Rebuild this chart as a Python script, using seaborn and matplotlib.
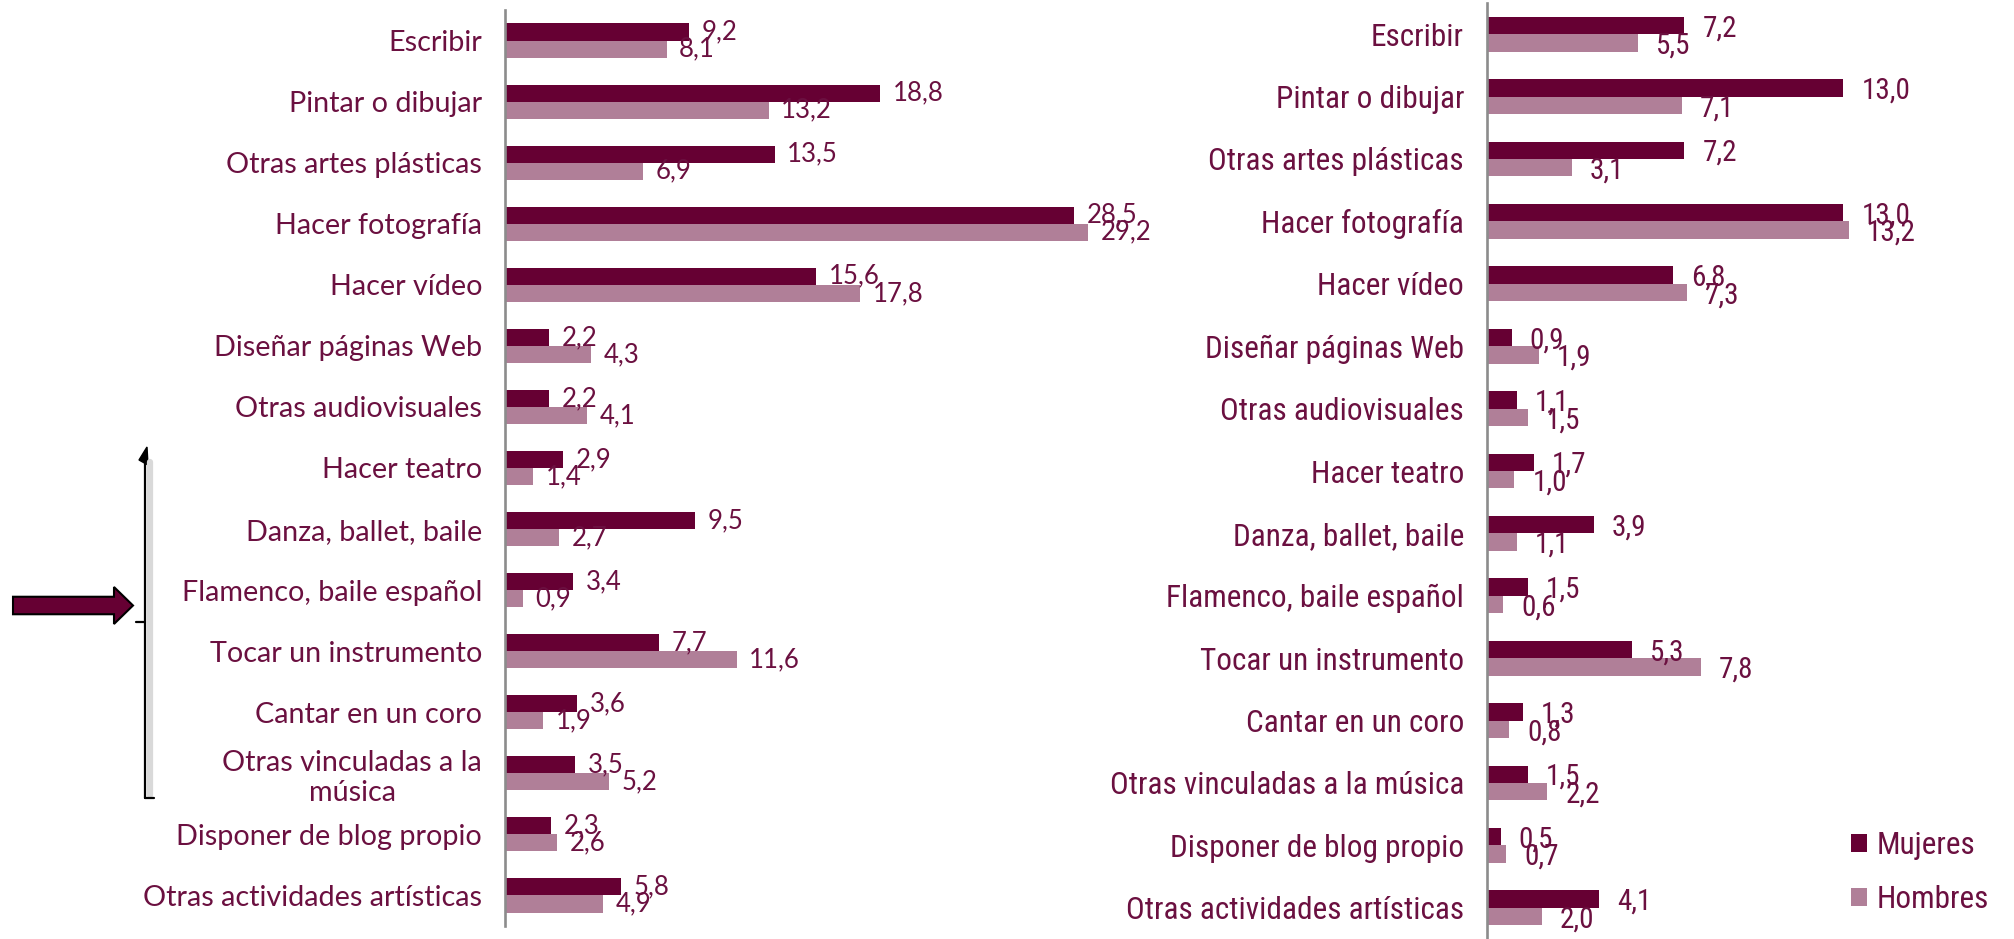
import pandas as pd
import matplotlib.pyplot as plt
import matplotlib.patches as mpatches
from matplotlib.lines import Line2D
import seaborn as sns

# Data
activities_left = ["Escribir", "Pintar o dibujar", "Otras artes plásticas", "Hacer fotografía",
                   "Hacer vídeo", "Diseñar páginas Web", "Otras audiovisuales", "Hacer teatro",
                   "Danza, ballet, baile", "Flamenco, baile español", "Tocar un instrumento",
                   "Cantar en un coro", "Otras vinculadas a la\nmúsica", "Disponer de blog propio",
                   "Otras actividades artísticas"]
mujeres_left = [9.2, 18.8, 13.5, 28.5, 15.6, 2.2, 2.2, 2.9, 9.5, 3.4, 7.7, 3.6, 3.5, 2.3, 5.8]
hombres_left = [8.1, 13.2, 6.9, 29.2, 17.8, 4.3, 4.1, 1.4, 2.7, 0.9, 11.6, 1.9, 5.2, 2.6, 4.9]

activities_right = ["Escribir", "Pintar o dibujar", "Otras artes plásticas", "Hacer fotografía",
                    "Hacer vídeo", "Diseñar páginas Web", "Otras audiovisuales", "Hacer teatro",
                    "Danza, ballet, baile", "Flamenco, baile español", "Tocar un instrumento",
                    "Cantar en un coro", "Otras vinculadas a la música", "Disponer de blog propio",
                    "Otras actividades artísticas"]
mujeres_right = [7.2, 13.0, 7.2, 13.0, 6.8, 0.9, 1.1, 1.7, 3.9, 1.5, 5.3, 1.3, 1.5, 0.5, 4.1]
hombres_right = [5.5, 7.1, 3.1, 13.2, 7.3, 1.9, 1.5, 1.0, 1.1, 0.6, 7.8, 0.8, 2.2, 0.7, 2.0]

sexes = ["Mujeres", "Hombres"]
palette = {"Mujeres": "#660033", "Hombres": "#B07F98"}
text_color = "#6B1040"
axis_color = "#8C8C8C"

font_left = ["Lato", "DejaVu Sans"]
font_right = ["Roboto Condensed", "Fira Sans Condensed", "DejaVu Sans"]


def to_long(acts, muj, hom):
    return pd.DataFrame({
        "Actividad": acts * 2,
        "Sexo": ["Mujeres"] * len(acts) + ["Hombres"] * len(acts),
        "Valor": muj + hom,
    })


df_left = to_long(activities_left, mujeres_left, hombres_left)
df_right = to_long(activities_right, mujeres_right, hombres_right)

sns.set_style("white")

W, H = 2014, 939
fig = plt.figure(figsize=(W / 100, H / 100), dpi=100)

ax_l = fig.add_axes([505 / W, 13 / H, 599 / W, 916 / H])
ax_r = fig.add_axes([1487 / W, 0 / H, 527 / W, 936 / H])


def draw_panel(ax, df, acts, xmax, font, fsize, vsize, gap, dy):
    sns.barplot(data=df, x="Valor", y="Actividad", hue="Sexo", hue_order=sexes,
                palette=palette, width=0.56, orient="h", ax=ax, legend=False,
                edgecolor="none", saturation=1)
    ax.set_xlim(0, xmax)
    ax.set_ylim(len(acts) - 0.5, -0.5)
    ax.set_xlabel("")
    ax.set_ylabel("")
    ax.set_xticks([])
    for s in ["top", "right", "bottom"]:
        ax.spines[s].set_visible(False)
    ax.spines["left"].set_color(axis_color)
    ax.spines["left"].set_linewidth(1.9)
    ax.set_yticks(range(len(acts)))
    ax.set_yticklabels(acts, family=font, fontsize=fsize, color=text_color,
                       ha="right", multialignment="center")
    ax.set_yticks([i - 0.5 for i in range(len(acts) + 1)], minor=True)
    ax.tick_params(axis="y", which="major", length=0, pad=23 * 0.72)
    ax.tick_params(axis="y", which="minor", length=5, width=1.9, color=axis_color,
                   direction="out")
    # value labels
    for cont in ax.containers:
        for bar in cont:
            v = bar.get_width()
            yc = bar.get_y() + bar.get_height() / 2
            ax.annotate(f"{v:.1f}".replace(".", ","), (v, yc), xytext=(gap, -dy),
                        textcoords="offset points", va="center", ha="left",
                        family=font, fontsize=vsize, color=text_color)


draw_panel(ax_l, df_left, activities_left, 30.0, font_left, 20.7, 18.5, 9, 0)
draw_panel(ax_r, df_right, activities_right, 527 / 27.4, font_right, 22.5, 21, 13, 2)

# legend
handles = [mpatches.Patch(facecolor=palette[s], edgecolor="none", label=s) for s in sexes]
leg = fig.legend(handles=handles, loc="upper left", bbox_to_anchor=(1851 / W, 1 - 831 / H),
                 frameon=False, prop={"family": font_right, "size": 22.5},
                 handlelength=0.51, handleheight=0.54, handletextpad=0.3, labelspacing=0.8,
                 borderpad=0, borderaxespad=0)
for t in leg.get_texts():
    t.set_color(text_color)

# arrow pointing at the music group
arrow = mpatches.FancyArrow(13 / W, 1 - 605.5 / H, 101 / W, 0, width=17.5 / H,
                            head_width=37 / H, head_length=19 / W,
                            length_includes_head=False, transform=fig.transFigure,
                            facecolor="#660033", edgecolor="black", linewidth=1.5)
fig.add_artist(arrow)

# bracket
fig.add_artist(Line2D([150 / W, 150 / W], [1 - 462 / H, 1 - 795 / H], transform=fig.transFigure,
                      color="#D9D9D9", linewidth=4.5))
fig.add_artist(Line2D([145 / W, 145 / W], [1 - 452 / H, 1 - 798 / H], transform=fig.transFigure,
                      color="black", linewidth=1.6))
fig.add_artist(Line2D([145 / W, 154 / W], [1 - 798 / H, 1 - 798 / H], transform=fig.transFigure,
                      color="black", linewidth=1.6))
fig.add_artist(Line2D([136 / W, 145 / W], [1 - 622 / H, 1 - 622 / H], transform=fig.transFigure,
                      color="black", linewidth=1.6))
fig.add_artist(mpatches.Polygon([[139 / W, 1 - 460 / H], [147 / W, 1 - 447 / H], [148 / W, 1 - 465 / H]],
                                closed=True, transform=fig.transFigure, facecolor="black",
                                edgecolor="black"))

fig.savefig("out.png", dpi=100)
